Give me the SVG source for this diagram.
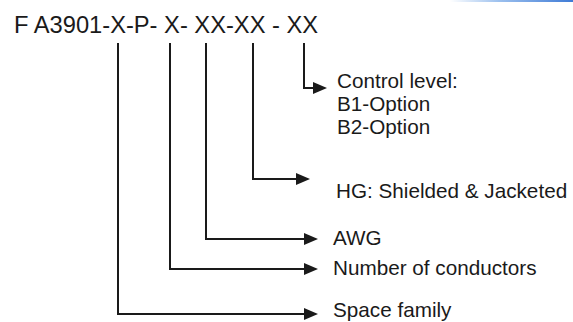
<svg xmlns="http://www.w3.org/2000/svg" width="573" height="322" viewBox="0 0 573 322">
<defs>
<linearGradient id="bar" x1="0" y1="0" x2="1" y2="0">
<stop offset="0" stop-color="#ffffff"/>
<stop offset="0.4" stop-color="#9cc0ee"/>
<stop offset="1" stop-color="#3f7bd6"/>
</linearGradient>
<marker id="ah" viewBox="0 0 14 12" markerWidth="14" markerHeight="12" refX="1" refY="6" markerUnits="userSpaceOnUse" orient="auto">
<path d="M0,0 L14,6 L0,12 z" fill="#1a1a1a"/>
</marker>
<style>
.t{font-family:"Liberation Sans",Arial,sans-serif;fill:#1a1a1a}
.title{font-size:23.7px}
.lbl{font-size:20.7px}
.c{fill:none;stroke:#1a1a1a;stroke-width:2;marker-end:url(#ah)}
</style>
</defs>
<rect width="573" height="322" fill="#ffffff"/>
<rect x="450" y="0" width="123" height="2" fill="url(#bar)"/>
<g id="code"><text class="t title" x="14" y="33">F A3901-X-P- X- XX-XX - XX</text></g>
<g id="connectors">
<polyline class="c" points="118,43 118,314 305,314"/>
<polyline class="c" points="170,43 170,269 305,269"/>
<polyline class="c" points="206,43 206,239 305,239"/>
<polyline class="c" points="253,43 253,179 297,179"/>
<polyline class="c" points="304,43 304,88 314,88"/>
</g>
<g id="control"><text class="t lbl" x="337" y="88">Control level:</text><text class="t lbl" x="337" y="111">B1-Option</text><text class="t lbl" x="337" y="133.5">B2-Option</text></g>
<g id="hg"><text class="t lbl" x="336" y="198">HG: Shielded &amp; Jacketed</text></g>
<g id="awg"><text class="t lbl" x="333" y="245">AWG</text></g>
<g id="conductors"><text class="t lbl" x="333" y="275">Number of conductors</text></g>
<g id="family"><text class="t lbl" x="333" y="317">Space family</text></g>
</svg>
